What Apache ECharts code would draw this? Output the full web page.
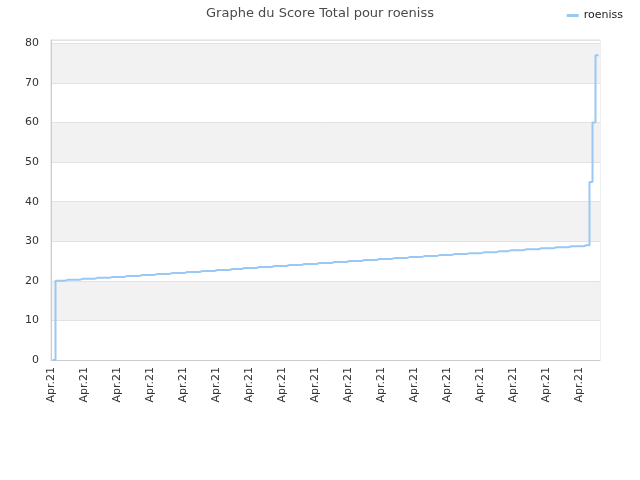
<!DOCTYPE html>
<html>
<head>
<meta charset="utf-8">
<script src="https://cdn.jsdelivr.net/npm/echarts@6/dist/echarts.min.js"></script>
<style>html,body{margin:0;padding:0;background:#fff}#c{width:640px;height:480px}</style>
</head>
<body>
<div id="c"></div>
<script>
const titleText = "Graphe du Score Total pour roeniss";
const seriesName = "roeniss";
const categoryLabel = "Apr.21";
const categoryCount = 184;
// score per category slot ('-' = no data)
const scoreValues = [
'-',0,20,20,20,
20.25,20.25,20.25,20.25,20.25,
20.5,20.5,20.5,20.5,20.5,
20.75,20.75,20.75,20.75,20.75,
21,21,21,21,21,
21.25,21.25,21.25,21.25,21.25,
21.5,21.5,21.5,21.5,21.5,
21.75,21.75,21.75,21.75,21.75,
22,22,22,22,22,
22.25,22.25,22.25,22.25,22.25,
22.5,22.5,22.5,22.5,22.5,
22.75,22.75,22.75,22.75,22.75,
23,23,23,23,
23.25,23.25,23.25,23.25,23.25,
23.5,23.5,23.5,23.5,23.5,
23.75,23.75,23.75,23.75,23.75,
24,24,24,24,24,
24.25,24.25,24.25,24.25,24.25,
24.5,24.5,24.5,24.5,24.5,
24.75,24.75,24.75,24.75,24.75,
25,25,25,25,25,
25.25,25.25,25.25,25.25,25.25,
25.5,25.5,25.5,25.5,25.5,
25.75,25.75,25.75,25.75,25.75,
26,26,26,26,26,
26.25,26.25,26.25,26.25,26.25,
26.5,26.5,26.5,26.5,26.5,
26.75,26.75,26.75,26.75,26.75,
27,27,27,27,27,
27.25,27.25,27.25,27.25,27.25,
27.5,27.5,27.5,27.5,
27.75,27.75,27.75,27.75,27.75,
28,28,28,28,28,
28.25,28.25,28.25,28.25,28.25,
28.5,28.5,28.5,28.5,28.5,
28.75,28.75,28.75,28.75,28.75,
29,29,
45,60,77,'-'
];
const categories = [];
for (let i = 0; i < categoryCount; i++) categories.push(categoryLabel);

const chart = echarts.init(document.getElementById('c'), null, {renderer: 'canvas'});
chart.setOption({
  animation: false,
  backgroundColor: '#fff',
  textStyle: {fontFamily: 'DejaVu Sans'},
  title: {
    text: titleText, left: 'center', top: 2,
    textStyle: {fontSize: 13, fontWeight: 'normal', color: '#4a4a4a', fontFamily: 'DejaVu Sans'}
  },
  legend: {
    right: 12, top: 5, itemWidth: 12, itemHeight: 3, itemGap: 5,
    icon: 'rect',
    textStyle: {fontSize: 11, color: '#222', fontFamily: 'DejaVu Sans'},
    data: [seriesName]
  },
  grid: {left: 51, right: 40, top: 40, bottom: 120, show: true, borderColor: '#dddddd', borderWidth: 1},
  xAxis: {
    type: 'category', data: categories, boundaryGap: false,
    axisLine: {lineStyle: {color: '#cccccc'}},
    axisTick: {show: false},
    axisLabel: {interval: 10, rotate: 90, fontSize: 11, color: '#333', margin: 7, fontFamily: 'DejaVu Sans'},
    splitLine: {show: false}
  },
  yAxis: {
    type: 'value', min: 0, max: 80.85, interval: 10,
    axisLine: {show: true, lineStyle: {color: '#cccccc'}},
    axisTick: {show: false},
    axisLabel: {fontSize: 11, color: '#333', margin: 12, showMaxLabel: false, fontFamily: 'DejaVu Sans'},
    splitLine: {show: true, lineStyle: {color: '#e2e2e2'}},
    splitArea: {show: true, areaStyle: {color: ['#ffffff', '#f2f2f2']}}
  },
  series: [{
    name: seriesName, type: 'line', data: scoreValues, step: 'middle',
    showSymbol: false, symbol: 'none',
    lineStyle: {color: '#99c8f5', width: 2},
    itemStyle: {color: '#99c8f5'}
  }]
});
</script>
</body>
</html>
